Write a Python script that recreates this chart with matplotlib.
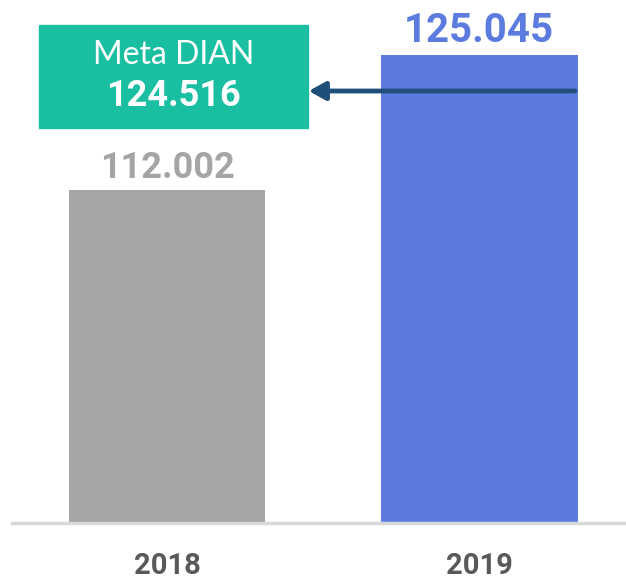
import matplotlib.pyplot as plt
from matplotlib.patches import Rectangle

# data
years = ["2018", "2019"]
values = [112.002, 125.045]
value_labels = ["112.002", "125.045"]
label_sizes = [26, 29]
meta_label = "Meta DIAN"
meta_value = "124.516"

BAR_COLORS = ["#A5A5A5", "#5B7BDF"]
TEAL = "#1ABFA2"
NAVY = "#1F4E79"
W, H = 626, 581

fig = plt.figure(figsize=(W / 100, H / 100), dpi=100)
ax = fig.add_axes([12 / W, (H - 523) / H, 1 - 12 / W, 523 / H])

ax.bar(range(len(years)), values, width=0.63, color=BAR_COLORS, zorder=2)
for i, (v, lab) in enumerate(zip(values, value_labels)):
    ax.annotate(lab, (i, v), xytext=(0, 3), textcoords="offset points",
                ha="center", va="bottom", fontsize=label_sizes[i], fontweight="bold",
                color=BAR_COLORS[i], family="Roboto")

ax.set_xlim(-0.497, 1.47)
ax.set_ylim(80, 130.3)
ax.set_xticks(range(len(years)), years, fontsize=21, fontweight="bold",
              color="#595959", family="Roboto")
ax.tick_params(axis="x", length=0, pad=21)
ax.set_yticks([])
for s in ["top", "right", "left"]:
    ax.spines[s].set_visible(False)
ax.spines["bottom"].set_color("#D9D9D9")
ax.spines["bottom"].set_linewidth(2.5)
ax.patch.set_alpha(0)

# target box, placed in figure pixels
def fx(px):
    return px / W

def fy(py):
    return 1 - py / H

fig.patches.append(Rectangle((fx(39), fy(128)), fx(308) - fx(39), fy(25) - fy(128),
                             transform=fig.transFigure, color=TEAL, zorder=3))
fig.text(fx(173.5), fy(55), meta_label, ha="center", va="center", fontsize=23,
         color="white", family="Lato", zorder=4)
fig.text(fx(173.5), fy(96), meta_value, ha="center", va="center", fontsize=26,
         color="white", family="Roboto", fontweight="bold", zorder=4)

fig.add_artist(plt.annotate("", xy=(fx(309), fy(91)), xytext=(fx(575), fy(91)),
                            xycoords="figure fraction", textcoords="figure fraction",
                            arrowprops=dict(arrowstyle="-|>,head_length=1.0,head_width=0.55",
                                            color=NAVY, lw=3.2, shrinkA=0, shrinkB=0)))

fig.savefig("out.png", dpi=100)
